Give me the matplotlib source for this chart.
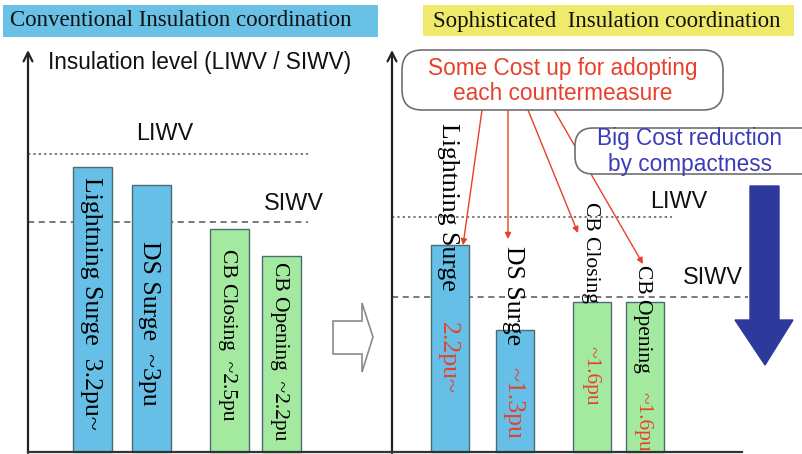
import matplotlib
matplotlib.use("Agg")
import matplotlib.pyplot as plt
from matplotlib.patches import FancyBboxPatch, Polygon, Rectangle

# ---- data -------------------------------------------------------------
surge_names = ["Lightning Surge", "DS Surge", "CB Closing", "CB Opening"]
conv_pu = [3.2, 3.0, 2.5, 2.2]
conv_text = ["3.2pu~", "~3pu", "~2.5pu", "~2.2pu"]
soph_pu = [2.2, 1.3, 1.6, 1.6]
soph_text = ["2.2pu~", "~1.3pu", "~1.6pu", "~1.6pu"]
level_names = ["LIWV", "SIWV"]
conv_levels = [3.35, 2.58]
soph_levels = [2.50, 1.65]
bar_colors = ["#66bfe6", "#66bfe6", "#a3eaa0", "#a3eaa0"]

W, H = 803, 454
BASE = 452          # pixel row of the zero line
K_CONV, K_SOPH = 89.0, 94.0   # pixels per pu in each panel

SERIF = "Liberation Serif"
SANS = "Liberation Sans"
RED = "#e8412b"
NAVY = "#2d3a9c"
FS_BAR = [18.5, 18.5, 15.5, 15.5]   # CB labels are set smaller to fit
FS_SANS = 16.3

fig = plt.figure(figsize=(W / 100, H / 100), dpi=100)
fig.patch.set_facecolor("white")


def chart_axes(k):
    ax = fig.add_axes([0, 0, 1, 1])
    ax.set_xlim(0, W)
    ax.set_ylim(-(H - BASE) / k, BASE / k)
    ax.axis("off")
    ax.patch.set_alpha(0)
    return ax


ax_l = chart_axes(K_CONV)
ax_r = chart_axes(K_SOPH)

# overlay in pixel coordinates (row 0 at top) for annotations
ov = fig.add_axes([0, 0, 1, 1])
ov.set_xlim(0, W)
ov.set_ylim(H, 0)
ov.axis("off")
ov.patch.set_alpha(0)

# ---- bars -------------------------------------------------------------
conv_x = [93, 151.5, 229.5, 281.5]
soph_x = [450, 515, 592.5, 645]
ax_l.bar(conv_x, conv_pu, width=39, color=bar_colors,
         edgecolor="#4d6b72", linewidth=1.0, zorder=2)
ax_r.bar(soph_x, soph_pu, width=38, color=bar_colors,
         edgecolor="#4d6b72", linewidth=1.0, zorder=2)

# withstand levels
ax_l.plot([28, 308], [conv_levels[0]] * 2, color="#555555", lw=1.1,
          ls=(0, (1.5, 2)), zorder=1)
ax_l.plot([28, 308], [conv_levels[1]] * 2, color="#555555", lw=1.1,
          ls=(0, (4, 3)), zorder=1)
ax_r.plot([392, 672], [soph_levels[0]] * 2, color="#555555", lw=1.1,
          ls=(0, (1.5, 2)), zorder=1)
ax_r.plot([392, 748], [soph_levels[1]] * 2, color="#555555", lw=1.1,
          ls=(0, (4, 3)), zorder=1)

# ---- axes lines ---------------------------------------------------------
for x0, x1 in [(28, 392), (392, 742)]:
    ov.plot([x0, x1], [BASE, BASE], color="#333333", lw=1.6, zorder=5)
for x0 in (28, 392):
    ov.annotate("", xy=(x0, 50), xytext=(x0, BASE + 1),
                arrowprops=dict(arrowstyle="->", color="#222222", lw=1.6,
                                mutation_scale=16, shrinkA=0, shrinkB=0))

# ---- titles -------------------------------------------------------------
ov.add_patch(Rectangle((3, 5), 375, 32, facecolor="#69c1e6", edgecolor="none"))
ov.text(10, 21, "Conventional Insulation coordination", family=SERIF,
        fontsize=16.5, ha="left", va="center", color="#111111")
ov.add_patch(Rectangle((423, 5), 371, 31, facecolor="#efea6b", edgecolor="none"))
ov.text(433, 21, "Sophisticated  Insulation coordination", family=SERIF,
        fontsize=16.5, ha="left", va="center", color="#111111")

ov.text(48, 62, "Insulation level (LIWV / SIWV)", family=SANS,
        fontsize=FS_SANS, ha="left", va="center", color="#111111")

# level labels
for x, y, s in [(165, 134, level_names[0]), (294, 203, level_names[1]),
                (679, 202, level_names[0]), (713, 277, level_names[1])]:
    ov.text(x, y, s, family=SANS, fontsize=16.8, ha="center", va="center",
            color="#111111")

# ---- bar labels -----------------------------------------------------------
conv_tops = [177, 241, 249, 262]
for x, top, name, val, fs in zip(conv_x, conv_tops, surge_names, conv_text,
                                 FS_BAR):
    ov.text(x - 2, top, f"{name}  {val}", family=SERIF, fontsize=fs,
            rotation=-90, ha="center", va="top", color="black", zorder=6)

soph_tops = [BASE - K_SOPH * v for v in soph_pu]
soph_name_tops = [soph_tops[0] - 122, 246, 202, 265]
soph_val_tops = [soph_tops[0] + 77, 367, 346, 392]
for x, t0, t1, name, val, fs in zip(soph_x, soph_name_tops, soph_val_tops,
                                    surge_names, soph_text, FS_BAR):
    ov.text(x - 2, t0, name, family=SERIF, fontsize=fs, rotation=-90,
            ha="center", va="top", color="black", zorder=6)
    ov.text(x - 2, t1, val, family=SERIF, fontsize=fs, rotation=-90,
            ha="center", va="top", color=RED, zorder=6)

# ---- transition arrow between panels -------------------------------------
ov.add_patch(Polygon([(333, 321), (362, 321), (362, 303), (373, 337),
                      (362, 372), (362, 354), (333, 354)], closed=True,
                     facecolor="white", edgecolor="#8a8a8a", lw=1.2))

# ---- cost-up callout with arrows -------------------------------------------
arrow_from = [(482, 110), (508, 110), (528, 110), (554, 110)]
arrow_to = [(463, soph_tops[0]), (508, 239), (578, 233), (643, 264)]
for (x0, y0), (x1, y1) in zip(arrow_from, arrow_to):
    ov.annotate("", xy=(x1, y1), xytext=(x0, y0), zorder=4,
                arrowprops=dict(arrowstyle="-|>", color=RED, lw=1.0,
                                mutation_scale=9, shrinkA=0, shrinkB=0))

ov.add_patch(FancyBboxPatch((402 + 14, 50 + 14), 321 - 28, 60 - 28,
                            boxstyle="round,pad=14,rounding_size=20",
                            facecolor="white", edgecolor="#6f6f6f", lw=1.2,
                            zorder=7))
ov.text(563, 68, "Some Cost up for adopting", family=SANS, fontsize=FS_SANS,
        ha="center", va="center", color=RED, zorder=8)
ov.text(563, 93, "each countermeasure", family=SANS, fontsize=FS_SANS,
        ha="center", va="center", color=RED, zorder=8)

# ---- cost-reduction callout and big arrow ----------------------------------
ov.add_patch(FancyBboxPatch((573 + 14, 128 + 12), 250 - 28, 46 - 24,
                            boxstyle="round,pad=12,rounding_size=18",
                            facecolor="white", edgecolor="#6f6f6f", lw=1.2,
                            zorder=7))
ov.text(690, 139, "Big Cost reduction", family=SANS, fontsize=FS_SANS,
        ha="center", va="center", color="#3b3db5", zorder=8)
ov.text(690, 164, "by compactness", family=SANS, fontsize=FS_SANS,
        ha="center", va="center", color="#3b3db5", zorder=8)

ov.add_patch(Polygon([(750, 186), (779, 186), (779, 320), (793, 320),
                      (765, 365), (735, 320), (750, 320)], closed=True,
                     facecolor=NAVY, edgecolor=NAVY, lw=1, zorder=6))

fig.savefig("out.png", dpi=100, facecolor="white")
